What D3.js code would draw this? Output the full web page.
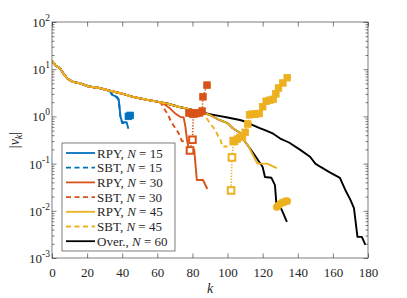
<!DOCTYPE html>
<html>
<head>
<meta charset="utf-8">
<script src="https://cdn.jsdelivr.net/npm/d3@7"></script>
<style>
  body { margin: 0; background: #fff; }
  svg { display: block; }
  svg text { font-family: "Liberation Serif", "Times New Roman", "DejaVu Serif", serif !important; fill: #262626; }
</style>
</head>
<body>
<div id="chart"></div>
<script>
// data: [k, |nu_k|]
const sharedHead = [[0,15],[2,12],[4.5,10.5],[7,7.6],[9,6.2],[12,5.4],[16,5.0],[21,4.3],[27,4.0],[33,3.5],
  [39,3.1],[46,2.6],[54,2.25],[60,2.05],[66,1.85],[72,1.6],[80,1.37],[86,1.2],[90,1.07]];

const rpy15 = sharedHead.slice(0, 10).concat([[34,2.9],[37,2.6],[38,2.3],[39,1.0],[40,0.75],[42.5,0.75],[43.5,0.55]]);
const sbt15 = sharedHead.slice(0, 10).concat([[34,3.0],[37,2.5],[38,2.2],[39,0.95],[40,0.72],[42,0.72]]);

const rpy30 = sharedHead.slice(0, 14).concat([[63,1.9],[67,1.5],[70,1.17],[73,0.98],[75,0.95],[76,0.6],[77,0.3],
  [78,0.2],[81,0.2],[82.5,0.045],[86,0.045],[88.5,0.029]]);
const sbt30 = sharedHead.slice(0, 14).concat([[62,1.95],[63,1.65],[66,1.1],[68,0.75],[72,0.45],[74,0.3],[77.5,0.29]]);

const rpy45 = sharedHead.concat([[95,0.85],[100,0.72],[103,0.56],[107,0.45],[110,0.29],[112,0.23],[114.5,0.15],
  [117,0.1],[122.5,0.1],[128,0.08]]);
const sbt45 = sharedHead.slice(0, 17).concat([[86,1.15],[88,0.93],[90,0.72],[93,0.51],[95,0.36],[96,0.32],[97,0.23],[100,0.23]]);

const over60 = sharedHead.slice(0, 18).concat([[92,1.08],[100,0.95],[107,0.84],[110,0.78],[114,0.66],[118,0.57],
  [122,0.5],[126,0.43],[130,0.34],[135,0.28],[141,0.2],[147,0.14],[150,0.1],[153,0.085],[158,0.066],[164,0.05],
  [167,0.028],[170,0.017],[172,0.0114],[174,0.0028],[176.5,0.0028],[178.5,0.0019]]);
const over45 = sharedHead.concat([[95,0.85],[100,0.72],[103,0.56],[107,0.45],[110,0.29],[112,0.23],[115.5,0.15],
  [120,0.085],[121.3,0.052],[125,0.05],[127,0.035],[128,0.0114],[130.4,0.0114],[131.5,0.0093],[133.8,0.0058]]);

// marked eigenvalues
const mark15 = [[43.5,1.0],[44.5,1.05]];
const mark30 = [[78,1.18],[80,1.15],[82,1.15],[84,1.18],[85.5,1.3],[86,2.6],[88.3,4.6]];
const open30 = [[80.5,1.15],[80,0.32],[78.6,0.19]];
const mark45 = [[104,0.3],[105.5,0.33],[107,0.36],[108.5,0.37],[110,0.46],[111.5,0.69],[112.5,1.08],[114,1.12],
  [116,1.12],[118,1.15],[120,1.6],[122,2.1],[124,2.2],[126,2.3],[127.5,3.0],[129,4.0],[131.5,5.1],[134,6.6]];
const mark45low = [[128,0.012],[129,0.013],[130,0.014],[131,0.015],[132,0.015],[133,0.016],[134,0.016]];
const open45 = [[103.5,0.3],[102.5,0.135],[102,0.027]];

const xTicks = [0, 20, 40, 60, 80, 100, 120, 140, 160, 180];
const yExp = [-3, -2, -1, 0, 1, 2];
const legendLabels = [
  ["RPY, ", "15"], ["SBT, ", "15"], ["RPY, ", "30"], ["SBT, ", "30"],
  ["RPY, ", "45"], ["SBT, ", "45"], ["Over., ", "60"]
];

const blue = "#0072BD", orange = "#D95319", yellow = "#EDB120";
const legendStyle = [
  [blue, null], [blue, "5,3.5"], [orange, null], [orange, "5,3.5"],
  [yellow, null], [yellow, "5,3.5"], ["#000", null]
];

const serif = "'Liberation Serif', 'Times New Roman', 'DejaVu Serif', serif";
const width = 407, height = 298;
const svg = d3.select("#chart").append("svg")
    .attr("width", width)
    .attr("height", height)
    .attr("font-family", serif);

const x = d3.scaleLinear().domain([0, 180]).range([52, 368]);
const y = d3.scaleLog().domain([1e-3, 1e2]).range([258, 22]);

svg.append("defs").append("clipPath").attr("id", "plot-clip")
    .append("rect").attr("x", 52).attr("y", 22).attr("width", 316).attr("height", 236);

const line = d3.line().x(d => x(d[0])).y(d => y(d[1]));

// axes
const minors = [];
d3.range(-3, 2).forEach(e => d3.range(2, 10).forEach(m => minors.push(m * Math.pow(10, e))));
const majors = yExp.map(e => Math.pow(10, e));

function styleAxis(g) {
    g.attr("font-family", serif);
    g.select(".domain").remove();
    g.selectAll("line").attr("stroke", "#262626").attr("stroke-width", 0.6);
}

svg.append("g").attr("transform", "translate(0,258)")
    .call(d3.axisBottom(x).tickValues(xTicks).tickSizeInner(-4.5).tickSizeOuter(0).tickPadding(10))
    .call(styleAxis)
    .call(g => g.selectAll("text").style("font-family", serif).attr("font-size", 13).attr("fill", "#262626"));
svg.append("g").attr("transform", "translate(0,22)")
    .call(d3.axisTop(x).tickValues(xTicks).tickSizeInner(-4.5).tickSizeOuter(0).tickFormat(""))
    .call(styleAxis);
[[d3.axisLeft, 52], [d3.axisRight, 368]].forEach(([ax, px]) => {
    svg.append("g").attr("transform", `translate(${px},0)`)
        .call(ax(y).tickValues(majors).tickSizeInner(-4.5).tickSizeOuter(0).tickFormat(""))
        .call(styleAxis);
    svg.append("g").attr("transform", `translate(${px},0)`)
        .call(ax(y).tickValues(minors).tickSizeInner(-2.5).tickSizeOuter(0).tickFormat(""))
        .call(styleAxis);
});

const yLab = svg.append("g").selectAll("text")
    .data(yExp)
    .join("text")
    .attr("x", 50)
    .attr("y", d => y(Math.pow(10, d)) + 5)
    .attr("text-anchor", "end")
    .attr("font-size", 13);
yLab.append("tspan").text("10");
yLab.append("tspan").attr("dy", -6).attr("font-size", 9.5).text(d => d < 0 ? "-" + (-d) : d);

svg.append("text")
    .attr("x", 210).attr("y", 293)
    .attr("text-anchor", "middle")
    .attr("font-size", 14)
    .attr("font-style", "italic")
    .text("k");

const ylabel = svg.append("text")
    .attr("transform", "translate(19,140) rotate(-90)")
    .attr("text-anchor", "middle")
    .attr("font-size", 14);
ylabel.append("tspan").text("|");
ylabel.append("tspan").attr("font-style", "italic").text("ν");
ylabel.append("tspan").attr("font-style", "italic").attr("font-size", 10).attr("dy", 3).text("k");
ylabel.append("tspan").attr("dy", -3).text("|");

// series
const plot = svg.append("g").attr("clip-path", "url(#plot-clip)");

const series = [
    [over60, "#000", null], [over45, "#000", null],
    [rpy15, blue, null], [sbt15, blue, "5,3.5"],
    [rpy30, orange, null], [sbt30, orange, "5,3.5"],
    [rpy45, yellow, null], [sbt45, yellow, "5,3.5"]
];
plot.selectAll(".series")
    .data(series)
    .join("path")
    .attr("class", "series")
    .attr("d", d => line(d[0]))
    .attr("fill", "none")
    .attr("stroke", d => d[1])
    .attr("stroke-dasharray", d => d[2])
    .attr("stroke-width", 1.9)
    .attr("stroke-linejoin", "round");

const markerSets = [
    [open30, orange, false], [mark30, orange, true],
    [mark15, blue, true],
    [open45, yellow, false], [mark45, yellow, true], [mark45low, yellow, true]
];
markerSets.forEach(([pts, col, filled]) => {
    plot.append("path")
        .attr("d", line(pts))
        .attr("fill", "none")
        .attr("stroke", col)
        .attr("stroke-width", 1.6)
        .attr("stroke-dasharray", "1.3,1.6");
    plot.selectAll(null)
        .data(pts)
        .join("rect")
        .attr("x", d => x(d[0]) - 3.3)
        .attr("y", d => y(d[1]) - 3.3)
        .attr("width", 6.6)
        .attr("height", 6.6)
        .attr("rx", pts === mark45low ? 2.5 : 0)
        .attr("fill", filled ? col : "#fff")
        .attr("stroke", col)
        .attr("stroke-width", filled ? 0.8 : 2);
});

// frame
svg.append("rect")
    .attr("x", 52).attr("y", 22).attr("width", 316).attr("height", 236)
    .attr("fill", "none")
    .attr("stroke", "#262626")
    .attr("stroke-width", 0.6);

// legend
const legend = svg.append("g").attr("transform", "translate(62,143)");
legend.append("rect")
    .attr("width", 113).attr("height", 108)
    .attr("fill", "#fff")
    .attr("stroke", "#262626")
    .attr("stroke-width", 0.6);
const rows = legend.selectAll(".row")
    .data(legendLabels)
    .join("g")
    .attr("class", "row")
    .attr("transform", (d, i) => `translate(0,${10 + i * 14.7})`);
rows.append("line")
    .attr("x1", 4).attr("x2", 33)
    .attr("stroke", (d, i) => legendStyle[i][0])
    .attr("stroke-dasharray", (d, i) => legendStyle[i][1])
    .attr("stroke-width", 1.8);
const lt = rows.append("text")
    .attr("x", 35).attr("y", 4.5)
    .attr("font-size", 13);
lt.append("tspan").text(d => d[0]);
lt.append("tspan").attr("font-style", "italic").text("N");
lt.append("tspan").text(d => " = " + d[1]);
</script>
</body>
</html>
